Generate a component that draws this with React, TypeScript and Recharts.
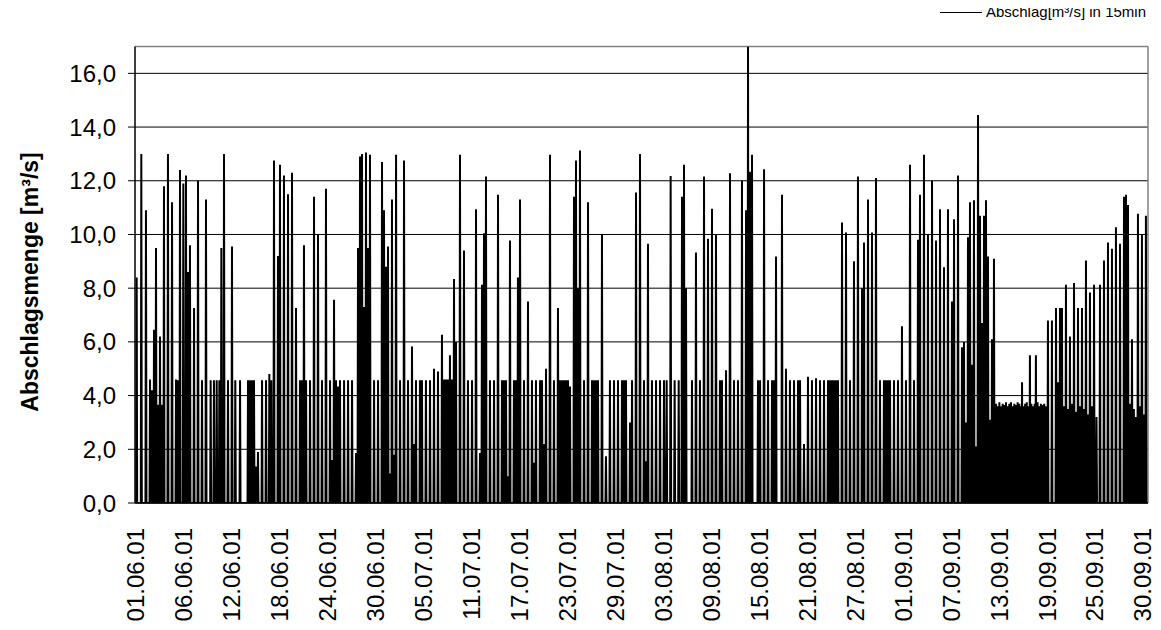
import React from "react";
import { LineChart, Line, XAxis, YAxis, CartesianGrid, ReferenceLine } from "recharts";

const FONT = "'Liberation Sans', Arial, Helvetica, sans-serif";

// Date tick labels (category axis of the original 15-min series)
const dateLabels = [
  "01.06.01", "06.06.01", "12.06.01", "18.06.01", "24.06.01", "30.06.01",
  "05.07.01", "11.07.01", "17.07.01", "23.07.01", "29.07.01", "03.08.01",
  "09.08.01", "15.08.01", "21.08.01", "27.08.01", "01.09.01", "07.09.01",
  "13.09.01", "19.09.01", "25.09.01", "30.09.01",
];
const LABEL_STEP_DAYS = 5.78;
const tickDays = dateLabels.map((_, i) => i * LABEL_STEP_DAYS);

const yTicks = [0, 2, 4, 6, 8, 10, 12, 14, 16];

// Discharge events: [day since 01.06.01, peak m³/s]; flow returns to base between events
const BASE_FLOW = 0;

const juneSpikes: [number, number][] = [
  [0.2, 8.4], [0.76, 13.0], [1.32, 10.9], [1.81, 4.6], [2.05, 4.2], [2.29, 6.45], [2.53, 9.5],
  [2.77, 3.66], [3.01, 6.2], [3.25, 3.66], [3.49, 11.8], [3.97, 13.0], [4.46, 11.2], [4.94, 4.6],
  [5.18, 4.57], [5.42, 12.4], [5.82, 11.9], [6.14, 12.2], [6.38, 8.6], [6.62, 9.6], [7.11, 7.26],
  [7.59, 12.0], [8.07, 4.57], [8.55, 11.3], [9.11, 4.57], [9.51, 4.57], [9.84, 4.57], [10.16, 4.57],
  [10.4, 9.5], [10.72, 13.0], [11.2, 4.57], [11.68, 9.55], [12.08, 4.57], [12.65, 4.57],
  [13.61, 4.57], [13.85, 4.57], [14.09, 4.57], [14.33, 4.57], [14.57, 1.36], [14.81, 1.9],
  [15.3, 4.57], [15.78, 4.57], [16.18, 4.8], [16.42, 4.57], [16.74, 12.75], [17.22, 9.2],
  [17.46, 12.6], [17.94, 12.2], [18.43, 11.5], [18.91, 12.3], [19.39, 7.26], [19.87, 4.57],
  [20.11, 4.57], [20.35, 9.6], [20.6, 4.57], [21.08, 4.57], [21.56, 11.4], [22.04, 10.0],
  [22.52, 4.57], [23.0, 11.7], [23.49, 4.57], [23.73, 1.6], [23.97, 7.57], [24.21, 4.57],
  [24.45, 4.34], [24.69, 4.57], [25.18, 4.57], [25.66, 4.57], [26.14, 4.57], [26.62, 1.86],
  [26.86, 9.5], [27.1, 12.9], [27.34, 13.0], [27.58, 7.3], [27.82, 13.05], [28.06, 9.5],
  [28.3, 12.97], [28.79, 4.57], [29.27, 4.57], [29.75, 12.7], [29.99, 10.9],
];

const julySpikes: [number, number][] = [
  [30.23, 8.8], [30.47, 9.55], [30.71, 1.1], [30.95, 11.3], [31.2, 1.8], [31.44, 12.97],
  [31.92, 4.57], [32.4, 12.75], [32.88, 4.57], [33.36, 5.83], [33.6, 2.2], [33.84, 4.57],
  [34.32, 4.57], [34.56, 4.57], [35.04, 4.57], [35.53, 4.57], [36.01, 5.0], [36.49, 4.9],
  [36.97, 6.27], [37.21, 4.6], [37.45, 4.6], [37.69, 4.6], [37.93, 5.5], [38.18, 4.6],
  [38.42, 8.34], [38.66, 6.0], [39.14, 12.97], [39.62, 9.4], [40.1, 4.57], [40.59, 4.57],
  [41.07, 10.94], [41.55, 1.86], [41.79, 8.13], [42.03, 10.05], [42.27, 12.16], [42.75, 4.57],
  [43.24, 4.57], [43.72, 11.48], [44.2, 4.57], [44.44, 4.57], [44.68, 4.57], [44.92, 1.0],
  [45.16, 9.78], [45.64, 4.57], [45.88, 4.57], [46.12, 8.4], [46.37, 11.3], [46.85, 4.57],
  [47.33, 7.5], [47.81, 4.57], [48.05, 1.5], [48.29, 4.57], [48.78, 4.57], [49.02, 4.57],
  [49.26, 2.2], [49.5, 5.0], [49.98, 12.97], [50.46, 4.57], [50.94, 7.26], [51.18, 4.57],
  [51.43, 4.57], [51.67, 4.57], [51.91, 4.57], [52.15, 4.57], [52.39, 4.34], [52.87, 11.4],
  [53.11, 12.75], [53.35, 8.0], [53.59, 13.13], [54.08, 4.57], [54.56, 11.2], [55.04, 4.57],
  [55.28, 4.57], [55.52, 4.57], [55.76, 4.57], [56.24, 10.0], [56.72, 1.74], [57.2, 4.57],
  [57.69, 4.57], [58.17, 4.57], [58.65, 4.57], [58.89, 4.57], [59.13, 4.57], [59.62, 3.0],
  [59.86, 4.57], [60.34, 11.56], [60.82, 13.0],
];

const augustSpikes: [number, number][] = [
  [61.3, 4.57], [61.54, 1.55], [61.78, 9.65], [62.26, 4.57], [62.75, 4.57], [63.23, 4.57],
  [63.71, 4.57], [64.03, 4.57], [64.51, 12.18], [64.99, 4.57], [65.48, 4.57], [65.88, 11.4],
  [66.12, 12.6], [66.36, 8.0], [67.08, 4.57], [67.56, 9.33], [68.04, 4.57], [68.53, 12.16],
  [69.01, 9.84], [69.49, 10.96], [69.97, 9.99], [70.45, 4.57], [70.69, 4.57], [71.18, 4.94],
  [71.66, 12.28], [72.14, 4.57], [72.62, 4.57], [73.1, 12.0], [73.59, 10.9], [73.83, 17.0],
  [74.07, 12.34], [74.31, 12.97], [75.03, 4.57], [75.28, 4.57], [75.76, 12.43], [76.24, 4.57],
  [76.72, 4.57], [76.96, 4.57], [77.2, 9.18], [77.92, 11.48], [78.4, 5.0], [78.88, 4.57],
  [79.37, 4.57], [79.85, 4.57], [80.09, 4.57], [80.57, 2.2], [81.05, 4.7], [81.53, 4.57],
  [82.02, 4.65], [82.5, 4.57], [82.98, 4.57], [83.46, 4.57], [83.7, 4.57], [83.94, 4.57],
  [84.18, 4.57], [84.42, 4.57], [84.66, 4.57], [85.15, 10.45], [85.63, 10.07], [86.11, 4.57],
  [86.59, 9.0], [87.07, 12.16], [87.56, 8.0], [87.8, 9.7], [88.28, 11.3], [88.76, 10.07],
  [89.24, 12.1], [89.72, 4.57], [90.2, 4.57], [90.44, 4.57], [90.69, 4.57], [90.93, 4.57],
  [91.41, 4.57], [91.89, 4.57],
];

const septemberSpikes: [number, number][] = [
  [92.37, 6.58], [92.85, 4.57], [93.34, 12.6], [93.82, 4.57], [94.3, 9.8], [94.54, 11.48],
  [95.02, 12.97], [95.5, 10.0], [95.99, 12.0], [96.47, 9.78], [96.95, 10.94], [97.43, 8.78],
  [97.91, 10.94], [98.39, 7.5], [98.64, 10.57], [99.12, 12.2], [99.6, 5.8], [99.84, 6.0],
  [100.08, 3.0], [100.32, 9.9], [100.56, 11.2], [100.8, 5.15], [101.04, 11.27], [101.28, 2.1],
  [101.53, 14.45], [101.77, 10.7], [102.01, 6.7], [102.25, 10.7], [102.49, 11.27], [102.73, 9.18],
  [102.97, 3.1], [103.21, 6.1], [103.45, 9.1], [106.83, 4.5], [107.78, 5.5], [108.5, 5.5],
  [109.95, 6.8], [110.43, 6.8], [110.92, 7.26], [111.16, 4.5], [111.4, 7.26], [111.64, 7.26],
  [112.12, 8.13], [112.6, 6.2], [113.09, 8.19], [113.57, 7.26], [114.05, 7.26], [114.53, 9.03],
  [115.01, 7.84], [115.5, 8.13], [116.22, 8.13], [116.7, 9.03], [117.18, 9.7], [117.66, 9.47],
  [118.14, 10.27], [118.63, 9.65], [119.11, 11.4], [119.35, 11.48], [119.59, 11.1], [120.07, 6.1],
  [120.79, 10.77], [121.27, 10.0], [121.75, 10.7],
];

// Dense low-flow pulses in September (~3.5 m³/s)
const septemberLowFlow: [number, number][] = [
  [103.7, 3.7], [103.9, 3.6], [104.1, 3.75], [104.3, 3.6], [104.5, 3.7], [104.7, 3.65],
  [104.9, 3.75], [105.1, 3.6], [105.3, 3.7], [105.5, 3.75], [105.7, 3.6], [105.9, 3.7],
  [106.1, 3.65], [106.3, 3.75], [106.5, 3.7], [106.7, 3.6], [107.0, 3.6], [107.2, 3.7],
  [107.4, 3.75], [107.6, 3.6], [107.95, 3.7], [108.15, 3.6], [108.35, 3.7], [108.7, 3.75],
  [108.9, 3.6], [109.1, 3.7], [109.3, 3.65], [109.5, 3.7], [109.7, 3.6], [111.9, 3.6],
  [112.36, 3.5], [112.85, 3.7], [113.33, 3.4], [113.8, 3.6], [114.3, 3.5], [114.77, 3.3],
  [115.25, 3.6], [115.8, 3.2], [119.83, 3.7], [120.3, 3.5], [120.55, 3.2], [121.03, 3.6],
  [121.5, 3.3],
];

const HALF_WIDTH = 0.06; // days on each side of a pulse where flow is at base

const allSpikes = [...juneSpikes, ...julySpikes, ...augustSpikes, ...septemberSpikes, ...septemberLowFlow]
  .slice()
  .sort((a, b) => a[0] - b[0]);

const chartData: { t: number; v: number }[] = [];
allSpikes.forEach(([d, p]) => {
  chartData.push({ t: d - HALF_WIDTH, v: BASE_FLOW });
  chartData.push({ t: d, v: p });
  chartData.push({ t: d + HALF_WIDTH, v: BASE_FLOW });
});

const DateTick = (props: any) => {
  const { x, y, payload } = props;
  let idx = tickDays.indexOf(payload.value);
  if (idx < 0) idx = props.index ?? 0;
  return (
    <g transform={`translate(${x},${y})`}>
      <text
        transform="rotate(-90)"
        textAnchor="end"
        dy="0.36em"
        fontSize={24}
        fontFamily={FONT}
        fill="#000"
      >
        {dateLabels[idx]}
      </text>
    </g>
  );
};

const fmt = (v: number) => v.toFixed(1).replace(".", ",");

export default function App() {
  return (
    <div style={{ position: "relative", width: 1161, height: 630, margin: -8, background: "#fff", overflow: "hidden" }}>
      <LineChart
        width={1161}
        height={630}
        data={chartData}
        margin={{ top: 46.5, right: 13, left: 0, bottom: 0 }}
      >
        <CartesianGrid vertical={false} stroke="#000" strokeWidth={1} strokeOpacity={1} />
        <ReferenceLine y={17} stroke="#808080" strokeWidth={1.5} />
        <ReferenceLine x={122} stroke="#808080" strokeWidth={1.5} />
        <XAxis
          dataKey="t"
          type="number"
          domain={[0, 122]}
          ticks={tickDays}
          interval={0}
          allowDataOverflow
          height={127}
          tickLine={false}
          tickSize={0}
          tickMargin={25}
          axisLine={{ stroke: "#000", strokeWidth: 1.5 }}
          tick={<DateTick />}
        />
        <YAxis
          type="number"
          domain={[0, 17]}
          ticks={yTicks}
          interval={0}
          allowDataOverflow
          width={135}
          tickSize={7}
          tickMargin={12}
          tickFormatter={fmt}
          axisLine={{ stroke: "#000", strokeWidth: 1.5 }}
          tickLine={{ stroke: "#000" }}
          tick={{ fill: "#000", fontSize: 24, fontFamily: FONT }}
          label={{
            content: () => (
              <text
                x={30}
                y={282}
                transform="rotate(-90, 30, 282)"
                textAnchor="middle"
                dominantBaseline="central"
                fontSize={23}
                fontWeight="bold"
                fontFamily={FONT}
                fill="#000"
              >
                Abschlagsmenge [m³/s]
              </text>
            ),
          }}
        />
        <Line
          type="linear"
          dataKey="v"
          stroke="#000"
          strokeWidth={2}
          dot={false}
          activeDot={false}
          isAnimationActive={false}
          name="Abschlag[m³/s] in 15min"
        />
      </LineChart>
      <div
        style={{
          position: "absolute",
          top: 3,
          right: 15,
          zIndex: 10,
          display: "flex",
          alignItems: "center",
          fontFamily: FONT,
          fontSize: 15,
          lineHeight: "18px",
          color: "#000",
          whiteSpace: "nowrap",
        }}
      >
        <span style={{ display: "inline-block", width: 42, borderTop: "1.5px solid #000", marginRight: 4 }} />
        <span>Abschlag[m³/s] in 15min</span>
      </div>
    </div>
  );
}
